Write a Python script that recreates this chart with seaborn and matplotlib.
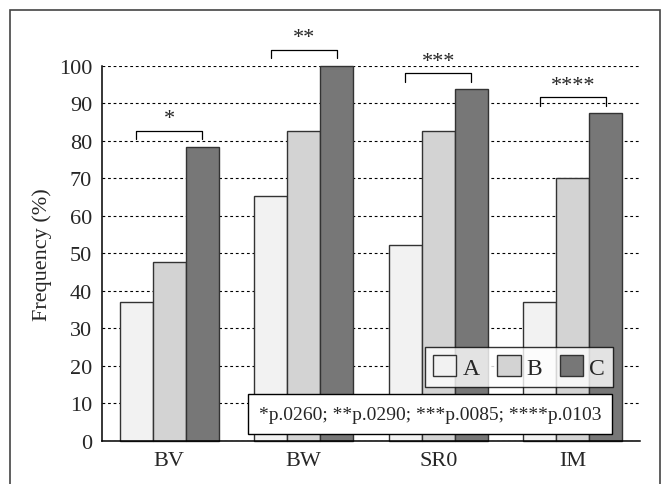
import numpy as np
import pandas as pd
import seaborn as sns
import matplotlib.pyplot as plt
from matplotlib.patches import Rectangle

sns.set_style('white')
plt.rcParams['font.family'] = ['Liberation Serif', 'DejaVu Serif']

# data
categories = ['BV', 'BW', 'SR0', 'IM']
groups = ['A', 'B', 'C']
freq_a = [37.0, 65.2, 52.3, 37.1]
freq_b = [47.8, 82.7, 82.7, 70.0]
freq_c = [78.4, 100.0, 93.7, 87.3]
stars = ['*', '**', '***', '****']
pvals_text = '*p.0260; **p.0290; ***p.0085; ****p.0103'

colors = ['#f2f2f2', '#d3d3d3', '#777777']

df = pd.DataFrame({
    'cat': categories * 3,
    'grp': ['A'] * 4 + ['B'] * 4 + ['C'] * 4,
    'val': freq_a + freq_b + freq_c,
})

fig = plt.figure(figsize=(6.66, 4.85), dpi=100)
ax = fig.add_axes([0.153, 0.0887, 0.808, 0.7735])

bw = 0.735
sns.barplot(data=df, x='cat', y='val', hue='grp', palette=colors, width=bw,
            edgecolor='#333333', linewidth=1.0, ax=ax, zorder=2)
for p in ax.patches:
    p.set_clip_on(False)

ax.set_ylim(0, 100)
ax.set_xlim(-0.5, 3.5)
ax.set_yticks(np.arange(0, 101, 10))
ax.yaxis.grid(True, linestyle=(0, (2.5, 2.5)), color='black', linewidth=0.8)
ax.set_axisbelow(True)

# ticks at group boundaries, labels at centers
ax.set_xticks(np.arange(-0.5, 3.6, 1))
ax.set_xticklabels([])
ax.set_xticks(range(4), minor=True)
ax.set_xticklabels(categories, minor=True, fontsize=16)
ax.tick_params(axis='x', which='major', direction='out', length=5, width=1, color='black')
ax.tick_params(axis='x', which='minor', length=0, pad=7)
ax.tick_params(axis='y', direction='out', length=5, width=1, color='black', labelsize=16, pad=2)

for s in ['top', 'right']:
    ax.spines[s].set_visible(False)
for s in ['left', 'bottom']:
    ax.spines[s].set_color('black')
    ax.spines[s].set_linewidth(1.1)

ax.set_xlabel('')
ax.set_ylabel('Frequency (%)', fontsize=16, labelpad=5)

# significance brackets from A to C
off = bw / 3
for i, (top, s) in enumerate(zip(freq_c, stars)):
    y = top + 4.3
    x0, x1 = i - off, i + off
    ax.plot([x0, x0, x1, x1], [y - 2.3, y, y, y - 2.3], color='black', lw=0.9,
            clip_on=False, zorder=3)
    ax.text(i, y + 0.6, s, ha='center', va='bottom', fontsize=16, clip_on=False)

# legend
handles, labels = ax.get_legend_handles_labels()
leg = ax.legend(handles, labels, ncol=3, loc='center', bbox_to_anchor=(0.775, 0.197),
                frameon=True, fancybox=False, edgecolor='black', fontsize=17,
                handlelength=1.0, handleheight=1.0, handletextpad=0.25,
                columnspacing=0.75, borderpad=0.35)
leg.get_frame().set_linewidth(1.0)
leg.set_zorder(5)
for h in leg.legend_handles:
    h.set_edgecolor('#333333')

# p-value box
ax.add_patch(Rectangle((0.585, 1.9), 3.292 - 0.585, 12.5 - 1.9, facecolor='white',
                       edgecolor='black', lw=1.0, zorder=6))
ax.text((0.585 + 3.292) / 2, 7.0, pvals_text, ha='center', va='center',
        fontsize=14, zorder=7)

# outer frame
fig.add_artist(Rectangle((10 / 666, -0.1), 650 / 666, 1.1 - 11 / 485,
                         transform=fig.transFigure, fill=False,
                         edgecolor='#444444', lw=1.2))

fig.savefig('out.png', dpi=100)
